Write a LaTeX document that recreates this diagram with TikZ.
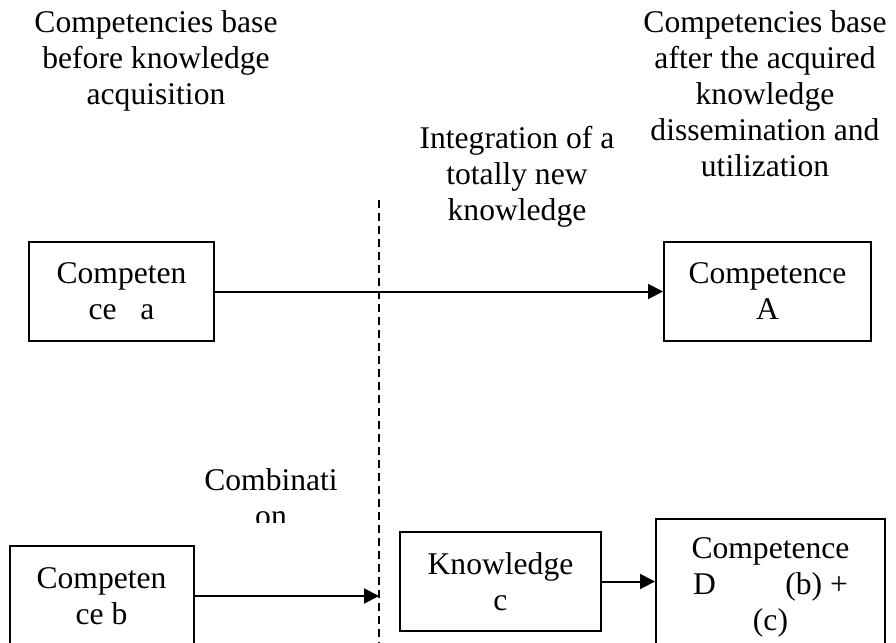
\documentclass[tikz,border=0pt]{standalone}
\usepackage{fontspec}
\setmainfont{Liberation Serif}
\usetikzlibrary{arrows.meta, positioning}

\begin{document}
\begin{tikzpicture}[x=0.5pt, y=-0.5pt, >={Triangle[length=7.5pt, width=7.5pt]},
    every node/.style={font=\fontsize{15.8}{18}\selectfont, inner sep=0pt, align=center},
    compbox/.style={draw, line width=1pt},
    link/.style={->, line width=1pt},
    divider/.style={dashed, dash pattern=on 4pt off 2.5pt, line width=0.65pt}]
    % Page frame
    \useasboundingbox (0,0) rectangle (896,643);
    \clip (0,0) rectangle (896,643);

    % Column headings
    \node[anchor=north] (before) at (156,10) {Competencies base\\before knowledge\\acquisition};
    \node[anchor=north] (after) at (765,10) {Competencies base\\after the acquired\\knowledge\\dissemination and\\utilization};
    \node[anchor=north] (integr) at (517,126) {Integration of a\\totally new\\knowledge};

    % Dividing line
    \coordinate (dtop) at (379,200);
    \coordinate (dbot) at (379,650);
    \draw[divider] (dtop) -- (dbot);

    % Upper row
    \node[compbox, minimum width=92.5pt, minimum height=49.5pt] (ca) at (121.5,291.5) {Competen\\ce~~~a};
    \node[compbox, minimum width=103.5pt, minimum height=49.5pt] (cA) at (767.5,291.5) {Competence\\A};
    \draw[link] (ca) -- (cA);

    % Lower row
    \node[compbox, minimum width=92pt, minimum height=50pt] (cb) at (101.5,596) {Competen\\ce b};
    \node[compbox, minimum width=100.5pt, minimum height=49.5pt] (kc) at (500.5,581.5) {Knowledge\\c};
    \node[compbox, anchor=north, minimum width=114.5pt, minimum height=68pt] (cD) at (770.5,518) {Competence\\\makebox[77.5pt]{D\hfill(b) +}\\(c)};
    \draw[link] (cb.east) -- (cb.east -| dtop);
    \draw[link] (kc.east) -- (kc.east -| cD.west);

    % Cut-off label
    \begin{scope}
        \clip (150,440) rectangle (370,522);
        \node[anchor=north] (comb) at (271,468) {Combinati\\on};
    \end{scope}
\end{tikzpicture}
\end{document}
